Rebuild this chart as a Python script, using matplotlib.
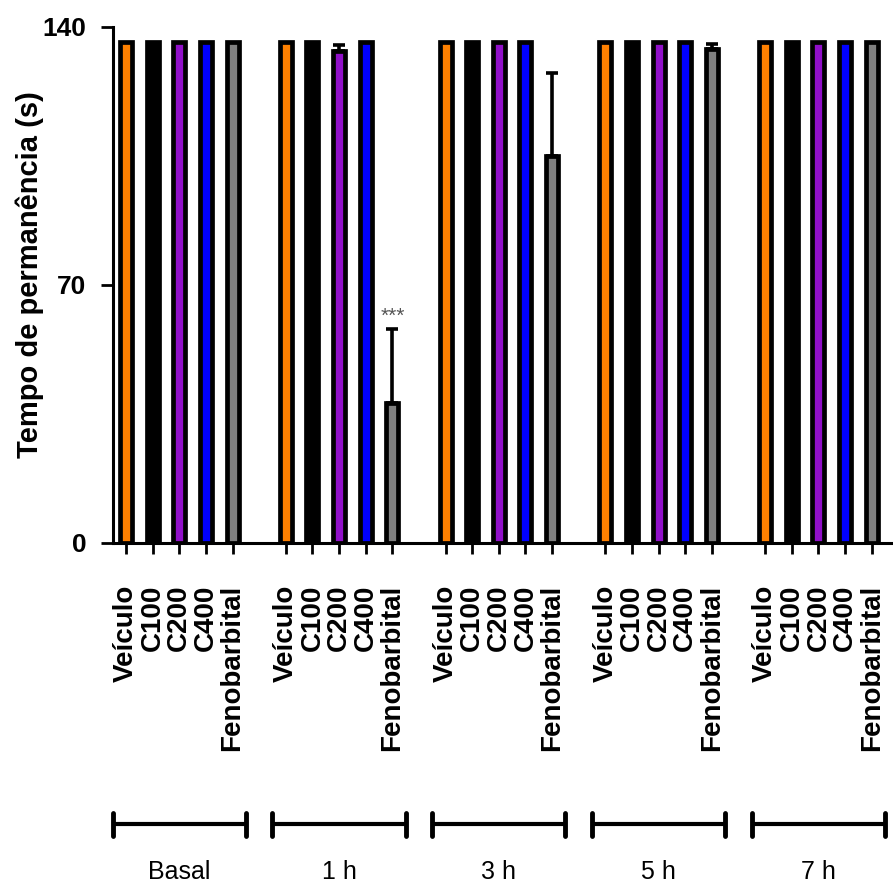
import matplotlib
matplotlib.use("Agg")
import matplotlib.pyplot as plt
import numpy as np

plt.rcParams['font.family'] = ['Liberation Sans', 'DejaVu Sans']

groups = ["Basal", "1 h", "3 h", "5 h", "7 h"]
treatments = ["Veículo", "C100", "C200", "C400", "Fenobarbital"]
colors = ["#FF8000", "#000000", "#9010C8", "#0000FF", "#808080"]

# values[group][treatment]
values = [
    [136, 136, 136, 136, 136],
    [136, 136, 133.5, 136, 38],
    [136, 136, 136, 136, 105],
    [136, 136, 136, 136, 134],
    [136, 136, 136, 136, 136],
]
errors = [
    [0, 0, 0, 0, 0],
    [0, 0, 1.5, 0, 20],
    [0, 0, 0, 0, 22.5],
    [0, 0, 0, 0, 1.5],
    [0, 0, 0, 0, 0],
]
yticks = [0, 70, 140]

fig = plt.figure(figsize=(8.93, 8.82), dpi=100)
ax = fig.add_axes([0.1265, 0.3844, 0.8735, 0.585])

slot = 6
positions = []
labels = []
for g, grp in enumerate(groups):
    for t, tr in enumerate(treatments):
        x = g * slot + t
        positions.append(x)
        labels.append(tr)
        v = values[g][t]
        e = errors[g][t]
        ax.bar(x, v, width=0.45, color=colors[t], edgecolor="black",
               linewidth=3.4, zorder=2)
        if e > 0:
            ax.errorbar(x, v, yerr=[[0], [e]], fmt="none", ecolor="black",
                        elinewidth=2.6, capsize=4, capthick=2.6, zorder=3)

# significance
ax.text(1 * slot + 4, values[1][4] + errors[1][4] + 0.8, "***", ha="center",
        va="bottom", fontsize=15, color="#555555")

ax.set_xlim(-0.49, 28.8)
ax.set_ylim(0, 140)
ax.set_yticks(yticks)
ax.set_yticklabels([str(v) for v in yticks], fontsize=19, fontweight="bold")
ax.set_xticks(positions)
ax.set_xticklabels(labels, rotation=90, fontsize=20, fontweight="bold",
                   va="top", ha="center")
ax.tick_params(axis="x", direction="inout", length=16, width=2, pad=22)
ax.tick_params(axis="y", direction="out", length=9, width=2, pad=10)
ax.set_ylabel("Tempo de permanência (s)", fontsize=21, fontweight="bold",
              labelpad=-1)
ax.yaxis.label.set_y(0.52)

for s in ["top", "right"]:
    ax.spines[s].set_visible(False)
for s in ["left", "bottom"]:
    ax.spines[s].set_linewidth(2.2)

# group brackets
for g, grp in enumerate(groups):
    c = g * slot + 2
    x0, x1 = c - 2.5, c + 2.5
    ybr = -0.545  # axes fraction approx
    ax.plot([x0, x1], [ybr, ybr], transform=ax.get_xaxis_transform(),
            color="black", lw=3, clip_on=False, solid_capstyle="butt")
    for xx in (x0, x1):
        ax.plot([xx, xx], [ybr - 0.022, ybr + 0.022],
                transform=ax.get_xaxis_transform(), color="black", lw=3.5,
                clip_on=False, solid_capstyle="round")
    ax.text(c, -0.637, grp, transform=ax.get_xaxis_transform(),
            ha="center", va="center", fontsize=18)

fig.savefig("out.png", dpi=100)
